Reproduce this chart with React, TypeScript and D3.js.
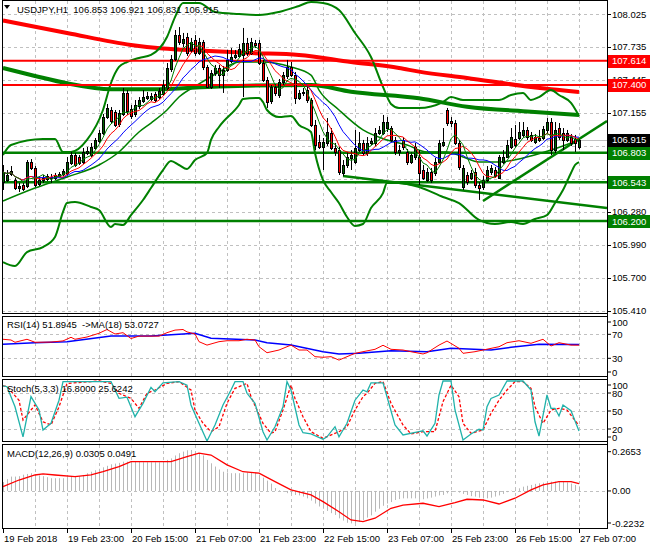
import React from "react";
import * as d3 from "d3";

// ---------- DATA ----------
const opens = [
  106.544,106.562,106.615,106.562,106.491,106.518,106.509,106.721,106.668,106.527,
  106.562,106.571,106.588,106.580,106.597,106.615,106.624,106.712,106.782,106.765,
  106.721,106.800,106.782,106.844,106.906,106.976,107.117,107.179,107.161,107.056,
  107.144,107.329,107.188,107.144,107.214,107.258,107.285,107.276,107.320,107.293,
  107.320,107.373,107.540,107.628,107.840,107.769,107.822,107.708,107.796,107.681,
  107.778,107.558,107.382,107.505,107.549,107.487,107.531,107.611,107.646,107.655,
  107.664,107.769,107.681,107.769,107.769,107.593,107.443,107.258,107.382,107.311,
  107.426,107.479,107.558,107.487,107.285,107.329,107.355,107.267,107.047,106.897,
  106.853,106.888,106.976,106.844,106.826,106.624,106.694,106.756,106.721,106.826,
  106.888,106.800,106.888,106.888,106.976,106.976,107.020,107.020,106.915,106.809,
  106.915,106.809,106.721,106.765,106.765,106.650,106.562,106.632,106.624,106.721,
  106.870,107.179,107.082,107.064,106.888,106.500,106.606,106.580,106.632,106.518,
  106.500,106.562,106.632,106.650,106.580,106.721,106.765,106.853,106.923,106.932,
  106.959,107.003,106.959,106.897,106.932,106.932,107.003,107.073,106.826,107.020,
  106.976,106.915,106.941,106.923,106.853,
];
const highs = [
  106.694,106.650,106.685,106.580,106.536,106.536,106.738,106.747,106.685,106.597,
  106.606,106.615,106.615,106.624,106.632,106.659,106.765,106.809,106.800,106.782,
  106.844,106.853,106.888,106.932,107.003,107.144,107.232,107.205,107.179,107.179,
  107.373,107.355,107.223,107.267,107.293,107.355,107.338,107.329,107.338,107.373,
  107.443,107.593,107.664,107.884,107.910,107.858,107.858,107.814,107.840,107.814,
  107.796,107.576,107.531,107.576,107.576,107.567,107.708,107.725,107.708,107.761,
  107.902,107.814,107.814,107.796,107.796,107.620,107.470,107.399,107.408,107.452,
  107.514,107.620,107.602,107.514,107.355,107.373,107.390,107.285,107.091,106.959,
  106.932,107.108,107.020,106.888,106.853,106.738,106.809,106.826,107.003,106.985,
  106.915,106.941,106.932,107.020,107.038,107.135,107.117,107.038,106.941,106.870,
  106.941,106.835,106.809,106.888,106.826,106.694,106.668,106.668,106.756,106.915,
  107.020,107.197,107.117,107.091,106.915,106.694,106.632,106.650,106.668,106.544,
  106.597,106.685,106.694,106.677,106.782,106.826,106.915,107.020,107.047,107.073,
  107.073,107.029,106.985,106.967,107.003,107.038,107.108,107.108,107.073,107.064,
  107.020,107.003,106.967,106.959,106.921,
];
const lows = [
  106.474,106.544,106.597,106.474,106.456,106.465,106.491,106.650,106.500,106.509,
  106.536,106.553,106.536,106.562,106.588,106.597,106.606,106.694,106.677,106.694,
  106.703,106.782,106.765,106.826,106.888,106.959,107.100,107.056,107.029,107.029,
  107.126,107.135,107.100,107.117,107.188,107.241,107.267,107.258,107.249,107.276,
  107.302,107.355,107.514,107.611,107.752,107.734,107.655,107.681,107.655,107.664,
  107.531,107.373,107.364,107.479,107.373,107.329,107.514,107.593,107.628,107.637,
  107.293,107.655,107.664,107.725,107.576,107.426,107.197,107.232,107.302,107.285,
  107.399,107.452,107.470,107.232,107.267,107.302,107.241,107.029,106.826,106.835,
  106.650,106.862,106.826,106.774,106.606,106.597,106.668,106.650,106.703,106.809,
  106.782,106.774,106.870,106.862,106.959,106.959,106.985,106.897,106.782,106.774,
  106.826,106.694,106.703,106.738,106.518,106.562,106.544,106.536,106.597,106.703,
  106.853,107.038,107.029,106.870,106.650,106.474,106.518,106.562,106.491,106.386,
  106.474,106.544,106.606,106.580,106.571,106.703,106.756,106.835,106.853,106.915,
  106.941,106.915,106.897,106.879,106.897,106.915,106.976,106.782,106.800,106.915,
  106.826,106.897,106.862,106.809,106.831,
];
const closes = [
  106.632,106.606,106.641,106.491,106.509,106.483,106.721,106.668,106.518,106.562,
  106.580,106.597,106.580,106.606,106.615,106.641,106.721,106.782,106.694,106.712,
  106.809,106.818,106.853,106.915,106.976,107.117,107.197,107.082,107.047,107.152,
  107.329,107.170,107.126,107.223,107.267,107.293,107.302,107.302,107.267,107.346,
  107.399,107.549,107.628,107.840,107.778,107.805,107.681,107.778,107.681,107.778,
  107.558,107.382,107.505,107.549,107.487,107.531,107.620,107.646,107.664,107.717,
  107.769,107.681,107.778,107.752,107.593,107.443,107.249,107.382,107.329,107.426,
  107.487,107.558,107.487,107.285,107.329,107.338,107.267,107.047,106.870,106.853,
  106.897,106.985,106.844,106.809,106.632,106.694,106.765,106.782,106.844,106.888,
  106.800,106.888,106.906,106.976,107.003,107.073,107.073,106.915,106.809,106.826,
  106.853,106.721,106.782,106.853,106.624,106.580,106.632,106.562,106.721,106.888,
  106.897,107.064,107.064,106.888,106.677,106.668,106.544,106.624,106.518,106.491,
  106.562,106.650,106.668,106.597,106.765,106.765,106.870,106.941,106.870,106.985,
  107.003,106.941,106.915,106.941,106.915,107.011,107.073,106.826,107.003,106.941,
  106.915,106.976,106.888,106.888,106.915,
];

const timeLabels = ["19 Feb 2018","19 Feb 23:00","20 Feb 15:00","21 Feb 07:00","21 Feb 23:00","22 Feb 15:00","23 Feb 07:00","25 Feb 23:00","26 Feb 15:00","27 Feb 07:00"];
const timeLabelBars = [0,16,32,48,64,80,96,112,128,144];

const priceTicks = [108.025,107.735,107.445,107.155,106.865,106.575,106.280,105.990,105.700,105.410];
const priceTickLabels = ["108.025","107.735","107.445","107.155","106.865","106.575","106.280","105.990","105.700","105.410"];

const redLevels = [107.614, 107.400];
const greenLevels = [106.803, 106.543, 106.200];
const lastPrice = 106.915;

// slow moving averages [bar, price]
const maRedSlow = [[0,107.968],[16,107.858],[32,107.752],[40,107.721],[49,107.703],[62,107.681],[74,107.664],[87,107.602],[99,107.549],[104,107.517],[116,107.461],[132,107.382],[144,107.338]];
const maGreenSlow = [[0,107.549],[8,107.479],[16,107.414],[27,107.361],[37,107.361],[54,107.386],[77,107.399],[87,107.340],[104,107.282],[116,107.208],[132,107.164],[144,107.135]];

// Bollinger bands [bar, price]
const bbUpper = [[0,106.782],[2,106.870],[10,106.923],[13,106.923],[15,106.809],[17,106.809],[21,106.915],[25,107.179],[27,107.417],[29,107.558],[31,107.602],[34,107.637],[37,107.664],[41,107.822],[43,107.998],[45,108.122],[49,108.122],[53,108.043],[59,108.025],[64,108.016],[69,108.043],[74,108.096],[77,108.131],[80,108.122],[84,108.060],[88,107.858],[92,107.646],[95,107.382],[97,107.232],[99,107.197],[104,107.197],[110,107.249],[112,107.293],[115,107.267],[124,107.267],[127,107.311],[130,107.329],[132,107.267],[134,107.293],[137,107.355],[139,107.311],[142,107.241],[144,107.126]];
const bbMiddle = [[0,106.377],[8,106.491],[16,106.588],[24,106.694],[29,106.809],[34,106.985],[37,107.064],[41,107.179],[44,107.293],[49,107.408],[54,107.514],[59,107.602],[65,107.602],[72,107.558],[77,107.487],[79,107.355],[84,107.179],[90,107.003],[96,106.915],[101,106.870],[106,106.809],[111,106.809],[115,106.765],[119,106.721],[124,106.721],[130,106.756],[137,106.826],[144,106.915]];
const bbLower = [[0,105.839],[3,105.804],[6,105.927],[10,105.971],[13,106.060],[15,106.280],[16,106.359],[18,106.368],[22,106.324],[24,106.298],[27,106.148],[28,106.174],[30,106.165],[32,106.253],[35,106.386],[37,106.491],[40,106.650],[42,106.729],[44,106.694],[46,106.659],[48,106.738],[51,106.800],[52,106.915],[54,107.029],[59,107.223],[60,107.276],[64,107.285],[65,107.249],[66,107.179],[69,107.117],[72,107.126],[74,107.047],[77,106.985],[78,106.800],[80,106.562],[82,106.456],[84,106.359],[86,106.236],[88,106.157],[90,106.174],[92,106.315],[95,106.447],[96,106.536],[99,106.536],[104,106.500],[110,106.412],[114,106.359],[119,106.210],[123,106.174],[127,106.192],[130,106.174],[133,106.218],[136,106.253],[138,106.359],[140,106.474],[142,106.624],[143,106.694],[144,106.720]];

const trendFalling = [[85,106.597],[151,106.315]];
const trendRising = [[120,106.377],[151,107.082]];

const smaPeriods = { lips: 5, teeth: 8, jaw: 13 };

// RSI pane
const rsiLine = [[0,61.7],[2,60.5],[3,56.7],[6,61.7],[8,56.7],[12,57],[15,59],[17,65],[18,61.7],[21,65.5],[24,71.7],[26,78],[28,70.5],[30,72.7],[32,63],[34,67],[39,67],[41,72.7],[43,77],[45,78],[46,74],[48,70.5],[49,57.7],[51,52],[54,57.7],[56,59.3],[59,59.3],[61,61.7],[63,60.5],[64,49.3],[66,39.3],[69,43.8],[71,49.3],[72,52],[74,43.8],[76,43.8],[78,32.7],[80,31.7],[82,32.7],[84,27],[86,32.7],[88,38.3],[90,41],[93,45],[95,51.7],[97,45],[100,43.8],[102,41],[105,37.2],[106,39.3],[109,52],[111,58.8],[114,46.7],[115,38.3],[118,41],[120,43.8],[124,49.3],[126,56],[129,59.3],[132,55],[135,61.7],[137,50.5],[139,56],[142,52],[144,51.89]];
const rsiMa = [[0,53.3],[8,56],[16,57.7],[27,67],[37,67],[48,71.7],[52,63.3],[63,60.5],[66,56],[72,52],[80,41],[84,37.2],[89,38.3],[97,42.7],[106,41],[112,46.7],[122,43.8],[127,48.3],[134,53.3],[144,53.07]];
const rsiLevels = [70, 30];
const rsiLabels = [100, 70, 30, 0];

// Stochastic pane
const stochMain = [[0,92],[1,90.5],[3,57],[5,7],[7,74],[9,51.7],[10,18.3],[12,29.5],[14,68],[15,99],[18,99],[21,99],[24,99],[27,99],[28,85],[29,71],[31,73],[33,40.5],[35,62.8],[37,89.5],[38,82],[40,97],[44,99],[46,93],[47,60],[49,29.5],[51,0],[53,26.7],[55,60],[57,85],[58,99],[60,99],[61,79.5],[63,62.8],[65,15.5],[66,1.7],[68,23.8],[70,57],[71,99],[72,85],[74,26.7],[75,13.8],[77,11.7],[80,2.8],[81,7],[83,23.8],[84,7],[86,29.5],[88,68],[90,85],[91,82],[92,97],[95,97],[96,73.8],[98,26.7],[100,10],[104,15.5],[105,17],[106,8.3],[108,29.5],[109,76.7],[110,100],[112,100],[113,51.7],[115,1.7],[117,11.7],[119,19.5],[120,18.3],[121,57],[122,71],[124,76.7],[126,100],[130,100],[132,85],[133,32],[134,8.3],[136,76.7],[137,54.5],[138,54.5],[139,41.7],[140,60],[142,50.5],[144,16.8]];
const stochSignal = [[0,92],[1,90.5],[4,68],[5,35],[7,51.7],[8,60],[10,32],[12,26.7],[14,57],[16,96],[24,100],[27,96],[29,79.5],[32,71],[34,54.5],[36,79.5],[38,85],[41,96],[44,99],[47,85],[48,51.7],[50,29.5],[52,15.5],[54,23.8],[56,62.8],[58,87.8],[61,96],[62,73.8],[65,29.5],[67,12.8],[68,15.5],[70,51.7],[72,93],[73,71],[75,40.5],[77,15.5],[80,4.5],[84,15.5],[86,23.8],[88,51.7],[90,73.8],[91,79.5],[93,96],[95,99],[97,62.8],[100,26.7],[102,11.7],[105,15.5],[108,15.5],[110,65.5],[112,93],[114,73.8],[115,29.5],[117,12.8],[120,18.3],[122,46],[124,68],[126,85],[128,99],[130,99],[132,87.8],[133,57],[135,29.5],[136,40.5],[137,51.7],[139,54.5],[141,51.7],[144,25.6]];
const stochLevels = [80, 50, 20];
const stochLabels = [100, 80, 50, 20, 0];

// MACD pane
const macdHist = [
  0.06,0.08,0.097,0.097,0.10,0.11,0.115,0.12,0.112,0.105,
  0.10,0.093,0.086,0.086,0.086,0.086,0.09,0.097,0.10,0.10,
  0.108,0.12,0.13,0.14,0.15,0.16,0.17,0.18,0.185,0.19,
  0.198,0.198,0.198,0.198,0.196,0.194,0.194,0.194,0.194,0.194,
  0.198,0.21,0.22,0.24,0.255,0.266,0.275,0.277,0.27,0.255,
  0.24,0.21,0.187,0.165,0.145,0.13,0.125,0.12,0.12,0.12,
  0.12,0.125,0.125,0.12,0.11,0.09,0.07,0.05,0.02,0.005,
  -0.005,-0.015,-0.02,-0.027,-0.03,-0.038,-0.05,-0.065,-0.085,-0.105,
  -0.12,-0.135,-0.15,-0.162,-0.185,-0.2,-0.215,-0.219,-0.219,-0.21,
  -0.196,-0.18,-0.165,-0.14,-0.12,-0.1,-0.085,-0.075,-0.061,-0.055,
  -0.05,-0.05,-0.05,-0.05,-0.056,-0.056,-0.05,-0.045,-0.038,-0.03,
  -0.027,-0.016,-0.01,-0.005,-0.011,-0.02,-0.027,-0.035,-0.038,-0.045,
  -0.05,-0.05,-0.045,-0.038,-0.03,-0.02,-0.008,0.002,0.007,0.018,
  0.029,0.035,0.041,0.048,0.052,0.056,0.06,0.063,0.063,0.063,
  0.063,0.058,0.05,0.04,0.0305,
];
const macdSignal = [[0,0.029],[4,0.074],[8,0.108],[10,0.115],[13,0.108],[18,0.097],[22,0.108],[25,0.130],[29,0.164],[32,0.198],[37,0.198],[42,0.198],[46,0.232],[49,0.255],[52,0.243],[56,0.176],[60,0.130],[64,0.120],[68,0.063],[72,0.007],[77,-0.027],[80,-0.072],[84,-0.140],[87,-0.196],[90,-0.207],[93,-0.184],[97,-0.117],[100,-0.095],[105,-0.083],[109,-0.106],[113,-0.079],[116,-0.056],[120,-0.061],[124,-0.088],[128,-0.049],[132,0.007],[135,0.041],[139,0.063],[142,0.063],[144,0.0491]];
const macdLabels = [0.2653, 0.0, -0.2232];
const macdLabelText = ["0.2653", "0.00", "-0.2232"];

const titleText = "USDJPY,H1  106.853 106.921 106.831 106.915";
const rsiTitle = "RSI(14) 51.8945  ->MA(18) 53.0727";
const stochTitle = "Stoch(5,3,3) 16.8000 25.6242";
const macdTitle = "MACD(12,26,9) 0.0305 0.0491";

// ---------- CHART ----------
const FONT = "'Liberation Sans', Arial, sans-serif";
const FS = 9.5;
const PL = 2, PR = 607;
const panes: Record<string, number[]> = {
  main: [0, 313],
  rsi: [316, 376],
  stoch: [379, 441],
  macd: [444, 528],
};

export default function App() {
  const x = d3.scaleLinear().domain([0, 151]).range([3, 607]);
  const y = d3.scaleLinear().domain([105.41, 108.025]).range([310.7, 14]);
  const yR = d3.scaleLinear().domain([0, 100]).range([376.3, 316.3]);
  const yS = d3.scaleLinear().domain([0, 100]).range([441, 381]);
  const yM = d3.scaleLinear().domain([-0.2232, 0.2653]).range([524, 451.7]);

  const lineOf = (ys: any, curve: any = d3.curveLinear) =>
    d3.line<number[]>().x((d) => x(d[0])).y((d) => ys(d[1])).curve(curve);

  const smooth = lineOf(y, d3.curveMonotoneX);
  const straight = lineOf(y);

  const sma = (p: number) =>
    closes.map((_, i) => [i, d3.mean(closes.slice(Math.max(0, i - p + 1), i + 1)) as number]);

  const gridV = d3.range(8, 145, 8);
  const grey = "#c0c0c0";

  const clampLabel = (v: number, top: number, bot: number) => Math.max(top + 6, Math.min(bot - 5, v));

  return (
    <svg width={650} height={550} style={{ position: "absolute", left: 0, top: 0, background: "#fff" }}
      fontFamily={FONT} fontSize={FS}>
      <defs>
        <clipPath id="cMain"><rect x={PL} y={0} width={PR - PL} height={313} /></clipPath>
        <clipPath id="cRsi"><rect x={PL} y={317} width={PR - PL} height={59} /></clipPath>
        <clipPath id="cSto"><rect x={PL} y={380} width={PR - PL} height={61} /></clipPath>
        <clipPath id="cMacd"><rect x={PL} y={445} width={PR - PL} height={83} /></clipPath>
      </defs>
      <rect x={0} y={0} width={650} height={550} fill="#fff" />

      {/* vertical grid */}
      {gridV.map((b) => (
        <line key={"gv" + b} x1={Math.round(x(b)) + 0.5} x2={Math.round(x(b)) + 0.5} y1={1} y2={528}
          stroke={grey} strokeDasharray="3,3" />
      ))}
      {/* horizontal grids */}
      {priceTicks.map((p) => (
        <line key={"gh" + p} x1={PL} x2={PR} y1={Math.round(y(p)) + 0.5} y2={Math.round(y(p)) + 0.5}
          stroke={grey} strokeDasharray="3,3" />
      ))}
      {rsiLevels.map((v) => (
        <line key={"rl" + v} x1={PL} x2={PR} y1={Math.round(yR(v)) + 0.5} y2={Math.round(yR(v)) + 0.5}
          stroke={grey} strokeDasharray="3,3" />
      ))}
      {stochLevels.map((v) => (
        <line key={"sl" + v} x1={PL} x2={PR} y1={Math.round(yS(v)) + 0.5} y2={Math.round(yS(v)) + 0.5}
          stroke={grey} strokeDasharray="3,3" />
      ))}
      <line x1={PL} x2={PR} y1={Math.round(yM(0)) + 0.5} y2={Math.round(yM(0)) + 0.5} stroke={grey} strokeDasharray="3,3" />

      {/* MAIN PANE */}
      <g clipPath="url(#cMain)">
        <line x1={PL} x2={PR} y1={Math.round(y(lastPrice)) + 0.5} y2={Math.round(y(lastPrice)) + 0.5} stroke={grey} />
        <path d={smooth(maRedSlow as any) || ""} fill="none" stroke="#ff0000" strokeWidth={4} />
        <path d={smooth(maGreenSlow as any) || ""} fill="none" stroke="#008000" strokeWidth={4} />
        <path d={smooth(bbUpper as any) || ""} fill="none" stroke="#008000" strokeWidth={2} />
        <path d={smooth(bbMiddle as any) || ""} fill="none" stroke="#008000" strokeWidth={1.5} />
        <path d={smooth(bbLower as any) || ""} fill="none" stroke="#008000" strokeWidth={2} />
        {redLevels.map((p) => (
          <line key={"red" + p} x1={PL} x2={PR} y1={y(p)} y2={y(p)} stroke="#ff0000" strokeWidth={2} />
        ))}
        {greenLevels.map((p) => (
          <line key={"grn" + p} x1={PL} x2={PR} y1={y(p)} y2={y(p)} stroke="#008000" strokeWidth={2.5} />
        ))}
        <path d={straight(trendFalling as any) || ""} fill="none" stroke="#008000" strokeWidth={2.5} />
        <path d={straight(trendRising as any) || ""} fill="none" stroke="#008000" strokeWidth={2.5} />
        {/* candles */}
        {closes.map((c, i) => {
          const o = opens[i];
          const cx = Math.round(x(i));
          const top = y(Math.max(o, c));
          const bot = y(Math.min(o, c));
          const bull = c >= o;
          return (
            <g key={"c" + i}>
              <line x1={cx + 0.5} x2={cx + 0.5} y1={y(highs[i])} y2={y(lows[i])} stroke="#000" strokeWidth={1} />
              <rect x={cx - 0.5} y={Math.round(top) + 0.5} width={2} height={Math.max(1, Math.round(bot - top))}
                fill={bull ? "#006400" : "#ff0000"} stroke="#000" strokeWidth={1} />
            </g>
          );
        })}
        <path d={straight(sma(smaPeriods.jaw) as any) || ""} fill="none" stroke="#0000ff" strokeWidth={1} />
        <path d={straight(sma(smaPeriods.teeth) as any) || ""} fill="none" stroke="#ff0000" strokeWidth={1} />
        <path d={straight(sma(smaPeriods.lips) as any) || ""} fill="none" stroke="#008000" strokeWidth={1} />
      </g>

      {/* RSI PANE */}
      <g clipPath="url(#cRsi)">
        <path d={lineOf(yR)(rsiMa as any) || ""} fill="none" stroke="#0000ff" strokeWidth={1.5} />
        <path d={lineOf(yR)(rsiLine as any) || ""} fill="none" stroke="#ff0000" strokeWidth={1} />
      </g>

      {/* STOCH PANE */}
      <g clipPath="url(#cSto)">
        <path d={lineOf(yS)(stochSignal as any) || ""} fill="none" stroke="#ff0000" strokeWidth={1.3} strokeDasharray="3,2" />
        <path d={lineOf(yS)(stochMain as any) || ""} fill="none" stroke="#20b2aa" strokeWidth={1.3} />
      </g>

      {/* MACD PANE */}
      <g clipPath="url(#cMacd)">
        {macdHist.map((v, i) => (
          <line key={"h" + i} x1={Math.round(x(i)) + 0.5} x2={Math.round(x(i)) + 0.5} y1={yM(0)} y2={yM(v)}
            stroke="#b8b8b8" strokeWidth={1} />
        ))}
        <path d={lineOf(yM)(macdSignal as any) || ""} fill="none" stroke="#ff0000" strokeWidth={1.3} />
      </g>

      {/* pane frames */}
      {Object.entries(panes).map(([k, [t, b]]) => (
        <rect key={k} x={PL + 0.5} y={t + 0.5} width={PR - PL} height={b - t} fill="none" stroke="#000" strokeWidth={1} />
      ))}
      <line x1={PR + 0.5} x2={PR + 0.5} y1={0} y2={529} stroke="#000" />

      {/* titles */}
      <path d="M4,5 L10,5 L7,9 Z" fill="#000" />
      <text x={17} y={12.5} style={{ whiteSpace: "pre" }}>{titleText}</text>
      <text x={7} y={328} style={{ whiteSpace: "pre" }}>{rsiTitle}</text>
      <text x={7} y={392} style={{ whiteSpace: "pre" }}>{stochTitle}</text>
      <text x={7} y={457} style={{ whiteSpace: "pre" }}>{macdTitle}</text>

      {/* right price axis */}
      {priceTicks.map((p, i) => (
        <g key={"pt" + p}>
          <line x1={PR} x2={PR + 4} y1={Math.round(y(p)) + 0.5} y2={Math.round(y(p)) + 0.5} stroke="#000" />
          <text x={612} y={y(p) + 3.5}>{priceTickLabels[i]}</text>
        </g>
      ))}
      {[...redLevels.map((p) => [p, "#ff0000"]), [lastPrice, "#000000"], ...greenLevels.map((p) => [p, "#008000"])].map(([p, col]: any) => (
        <g key={"box" + p}>
          <rect x={608} y={Math.round(y(p)) - 6} width={42} height={13} fill={col} />
          <text x={612} y={y(p) + 3.5} fill="#fff">{(p as number).toFixed(3)}</text>
        </g>
      ))}

      {/* RSI axis */}
      {rsiLabels.map((v) => {
        const yy = clampLabel(yR(v), 316, 377);
        return (
          <g key={"ra" + v}>
            <line x1={PR} x2={PR + 4} y1={yy} y2={yy} stroke="#000" />
            <text x={612} y={yy + 3.5}>{v}</text>
          </g>
        );
      })}
      {/* Stoch axis */}
      {stochLabels.map((v) => {
        const yy = clampLabel(yS(v), 379, 442);
        return (
          <g key={"sa" + v}>
            <line x1={PR} x2={PR + 4} y1={yy} y2={yy} stroke="#000" />
            <text x={612} y={yy + 3.5}>{v}</text>
          </g>
        );
      })}
      {/* MACD axis */}
      {macdLabels.map((v, i) => {
        const yy = clampLabel(yM(v), 444, 528);
        return (
          <g key={"ma" + i}>
            <line x1={PR} x2={PR + 4} y1={yy} y2={yy} stroke="#000" />
            <text x={612} y={yy + 3.5}>{macdLabelText[i]}</text>
          </g>
        );
      })}

      {/* time axis */}
      {timeLabelBars.map((b, i) => (
        <g key={"t" + b}>
          <line x1={Math.round(x(b)) + 0.5} x2={Math.round(x(b)) + 0.5} y1={528} y2={533} stroke="#000" />
          <text x={Math.round(x(b)) + 1} y={542}>{timeLabels[i]}</text>
        </g>
      ))}
    </svg>
  );
}
